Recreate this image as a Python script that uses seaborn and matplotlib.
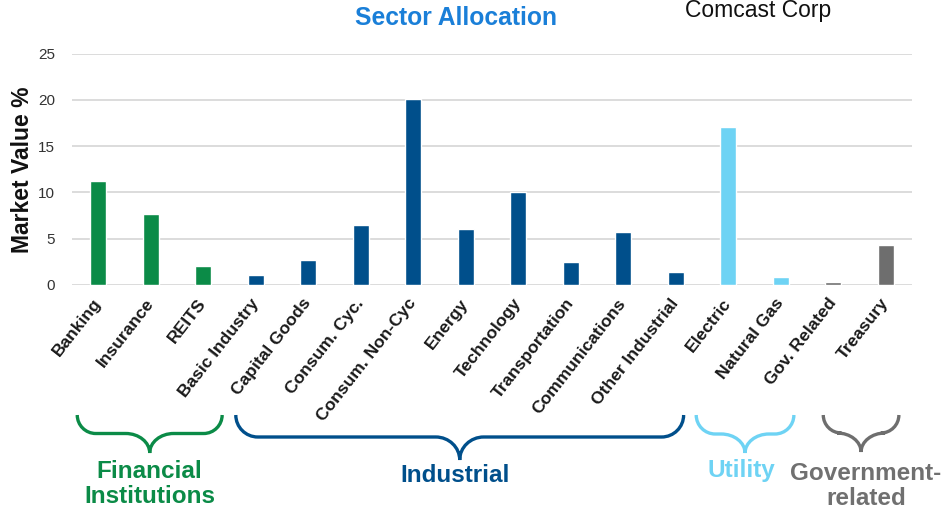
import matplotlib
matplotlib.use("Agg")
import matplotlib.pyplot as plt
from matplotlib.path import Path
from matplotlib.patches import PathPatch
from matplotlib.transforms import blended_transform_factory
import seaborn as sns
import pandas as pd

# Sector weights (% of market value)
sectors = ["Banking", "Insurance", "REITS", "Basic Industry", "Capital Goods",
           "Consum. Cyc.", "Consum. Non-Cyc", "Energy", "Technology",
           "Transportation", "Communications", "Other Industrial", "Electric",
           "Natural Gas", "Gov. Related", "Treasury"]
market_value = [11.25, 7.7, 2.1, 1.1, 2.75, 6.45, 20.1, 6.0, 10.05,
                2.45, 5.7, 1.45, 17.05, 0.9, 0.3, 4.3]
group_of_sector = ["Financial"] * 3 + ["Industrial"] * 9 + ["Utility"] * 2 + ["Government"] * 2

group_names = ["Financial", "Industrial", "Utility", "Government"]
group_labels = ["Financial\nInstitutions", "Industrial", "Utility", "Government-\nrelated"]
group_colors = {"Financial": "#0B8B47", "Industrial": "#004F8B",
                "Utility": "#6ED3F4", "Government": "#6E6E6E"}
group_text_colors = {"Financial": "#0B8B47", "Industrial": "#004F8B",
                     "Utility": "#6ED3F4", "Government": "#707070"}
# brace extent along the category axis and label anchor
group_span = {"Financial": (-0.40, 2.36), "Industrial": (2.62, 11.15),
              "Utility": (11.39, 13.25), "Government": (13.81, 15.25)}
group_label_x = {"Financial": 0.98, "Industrial": 6.80, "Utility": 12.25, "Government": 14.62}

df = pd.DataFrame({"sector": sectors, "value": market_value, "group": group_of_sector})

W, H = 946, 513
sns.set_style("white")
plt.rcParams["font.family"] = ["Liberation Sans", "DejaVu Sans"]

fig = plt.figure(figsize=(W / 100, H / 100), dpi=100)
ax = fig.add_axes([72 / W, 1 - 285 / H, 840 / W, (285 - 53.7) / H])

palette = [group_colors[g] for g in group_of_sector]
sns.barplot(data=df, x="sector", y="value", hue="sector", palette=palette,
            width=0.31, legend=False, ax=ax, saturation=1)

ax.set_xlim(-0.5, len(sectors) - 0.5)
ax.set_ylim(0, 25)
ax.set_yticks([0, 5, 10, 15, 20, 25])
ax.yaxis.grid(True, color="#d9d9d9", linewidth=1.3)
ax.set_axisbelow(True)
for s in ax.spines.values():
    s.set_visible(False)
ax.tick_params(axis="both", length=0)
ax.tick_params(axis="y", pad=12, labelsize=11, labelcolor="#333333")
ax.set_xlabel("")
ax.set_ylabel("Market Value %", fontsize=16.5, fontweight="bold", color="#111111", labelpad=3)
ax.set_xticks(range(len(sectors)))
ax.set_xticklabels(sectors, rotation=52, ha="right", va="center",
                   rotation_mode="anchor", fontsize=12.6, fontweight="bold", color="#1a1a1a")
ax.tick_params(axis="x", pad=11)

fig.text(456 / W, 1 - 18 / H, "Sector Allocation", ha="center", va="center",
         fontsize=17.7, fontweight="bold", color="#1A7FD8")
fig.text(758 / W, 1 - 10 / H, "Comcast Corp", ha="center", va="center",
         fontsize=16.5, color="#111111")

# curly braces under each sector group
trans = blended_transform_factory(ax.transData, fig.transFigure)
px_per_cat = 840 / len(sectors)


def brace(x0, x1, ytop, ymid, ybot, color):
    """Draw a downward curly brace; x in category units, y in pixels from top."""
    xc = (x0 + x1) / 2
    r = (ymid - ytop) / px_per_cat            # end radius in category units
    r2 = 24 / px_per_cat                       # cusp half-width
    k = 0.552
    fy = lambda y: 1 - y / H
    verts = [
        (x0, fy(ytop)),
        (x0, fy(ytop + k * (ymid - ytop))), (x0 + r * (1 - k), fy(ymid)), (x0 + r, fy(ymid)),
        (xc - r2, fy(ymid)),
        (xc - r2 * (1 - k), fy(ymid)), (xc, fy(ymid + (1 - k) * (ybot - ymid))), (xc, fy(ybot)),
        (xc, fy(ymid + (1 - k) * (ybot - ymid))), (xc + r2 * (1 - k), fy(ymid)), (xc + r2, fy(ymid)),
        (x1 - r, fy(ymid)),
        (x1 - r * (1 - k), fy(ymid)), (x1, fy(ytop + k * (ymid - ytop))), (x1, fy(ytop)),
    ]
    codes = ([Path.MOVETO] + [Path.CURVE4] * 3 + [Path.LINETO] + [Path.CURVE4] * 3
             + [Path.CURVE4] * 3 + [Path.LINETO] + [Path.CURVE4] * 3)
    patch = PathPatch(Path(verts, codes), facecolor="none", edgecolor=color,
                      linewidth=2.4, transform=trans, clip_on=False, capstyle="butt")
    fig.add_artist(patch)


brace_geom = {"Financial": (415, 433.5, 453), "Industrial": (415, 437, 460),
              "Utility": (415, 434, 453), "Government": (415, 433, 452)}
label_y = {"Financial": 484, "Industrial": 475, "Utility": 470, "Government": 486}

for g, lab in zip(group_names, group_labels):
    x0, x1 = group_span[g]
    ytop, ymid, ybot = brace_geom[g]
    brace(x0, x1, ytop, ymid, ybot, group_colors[g])
    fig.text(group_label_x[g], 1 - label_y[g] / H, lab, transform=trans,
             ha="center", va="center", fontsize=17.5, fontweight="bold",
             color=group_text_colors[g], linespacing=1.15)

fig.savefig("out.png", dpi=100)
